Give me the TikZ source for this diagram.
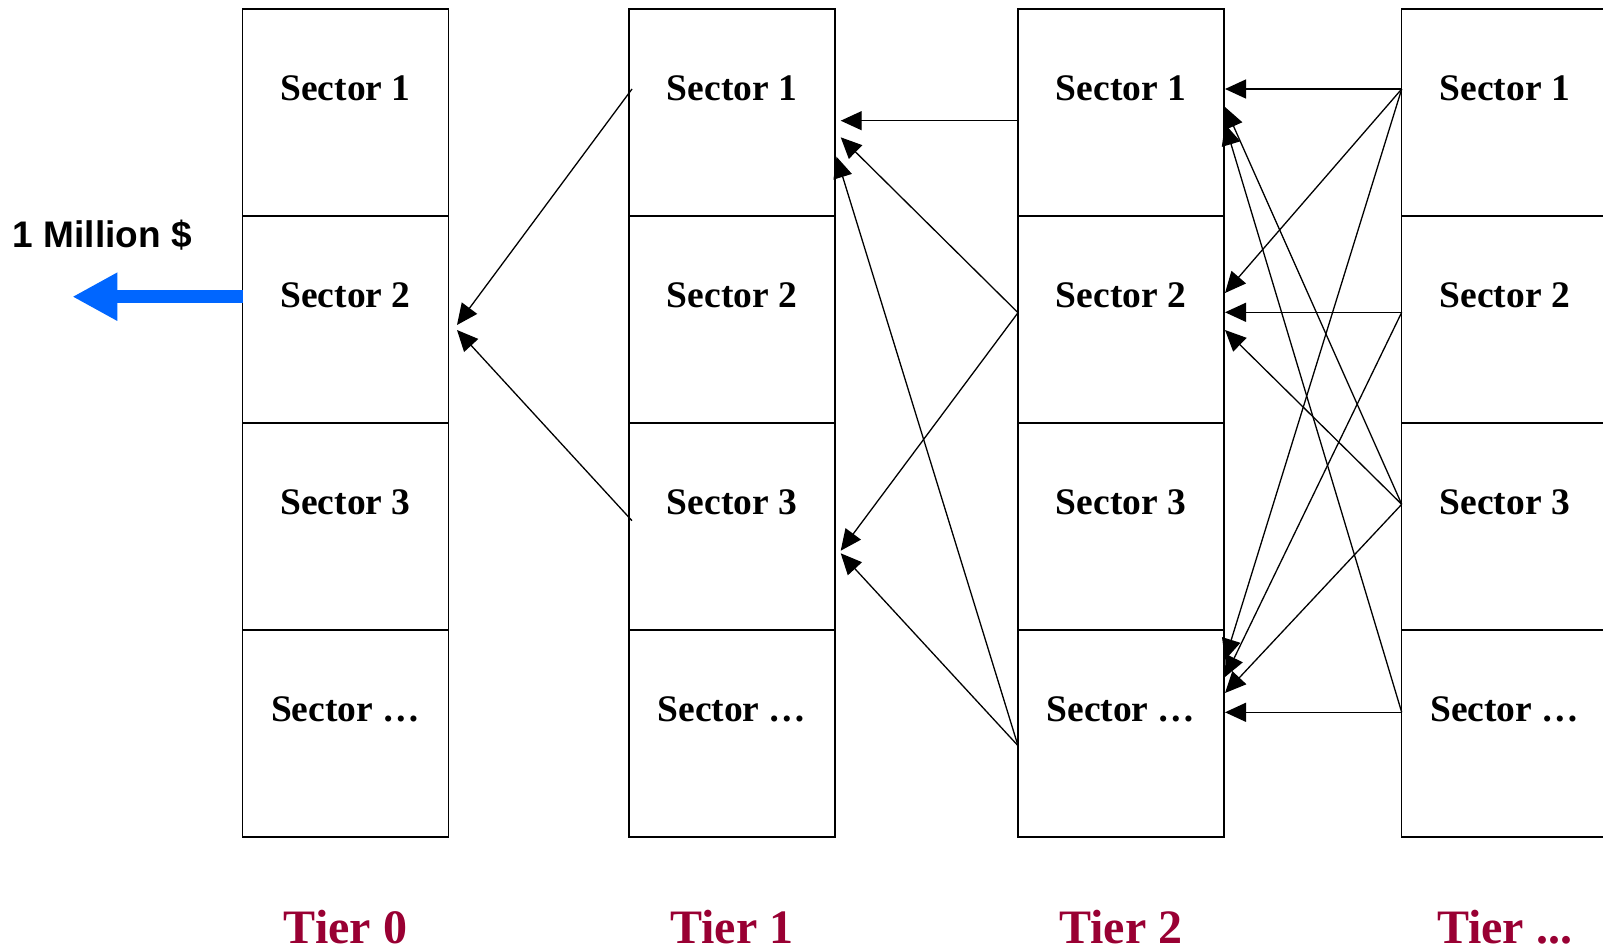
\documentclass[tikz,border=0pt]{standalone}
\usepackage{fontspec}
\setmainfont{Liberation Serif}
\newfontfamily\arialfont{Liberation Sans}
\usetikzlibrary{arrows.meta,calc}
\definecolor{tierred}{RGB}{153,0,51}
\definecolor{moneyblue}{RGB}{0,102,255}
\begin{document}
\begin{tikzpicture}[x=1pt,y=-1pt,
  cell/.style={draw=black,line width=1.5pt,minimum width=206pt,minimum height=207pt,inner sep=0pt,outer sep=0pt},
  sectortext/.style={anchor=base,inner sep=0pt,font=\fontsize{37.5}{44}\selectfont\bfseries},
  tiertext/.style={anchor=base,inner sep=0pt,text=tierred,font=\fontsize{48}{56}\selectfont\bfseries},
  conn/.style={draw=black,line width=1.3pt,-{Triangle[length=21pt,width=19pt]}},
  moneyarrow/.style={draw=moneyblue,line width=12.7pt,-{Triangle[length=45pt,width=45pt]}}]
\useasboundingbox (0,0) rectangle (1603,950);
\clip (0,0) rectangle (1603,950);
\foreach \c/\x in {0/345.5,1/732,2/1121,3/1504.7}{
  \foreach \r/\y/\t in {1/112.7/Sector 1,2/319.7/Sector 2,3/526.7/Sector 3,4/733.7/Sector …}{
    \node[cell] (c\c-\r) at (\x,\y) {};
    \node[sectortext] (t\c-\r) at ($(c\c-\r.north)+(0,91)$) {\t};
  }
}
\node[tiertext] (tier0) at (345.5,943) {Tier 0};
\node[tiertext] (tier1) at (732,943) {Tier 1};
\node[tiertext] (tier2) at (1121,943) {Tier 2};
\node[tiertext] (tier3) at (1504.7,943) {Tier ...};
% money
\node[anchor=base west,inner sep=0pt,font=\arialfont\fontsize{37}{44}\selectfont\bfseries] (money) at (12.7,247.3) {1 Million \$};
\coordinate (moneytip) at (72.3,296.7);
\draw[moneyarrow] ($(c0-2.west)+(0,-23)$) -- (moneytip);
% Tier 1 -> Tier 0
\draw[conn] ($(c1-1.west)+(3,-23.7)$) -- ($(c0-2.east)+(8.5,5.3)$);
\draw[conn] ($(c1-3.west)+(3,-6)$) -- ($(c0-2.east)+(8.5,10.3)$);
% Tier 2 -> Tier 1
\draw[conn] ($(c2-1.west)+(0,8)$) -- ($(c1-1.east)+(5.7,8)$);
\draw[conn] ($(c2-2.west)+(0,-7)$) -- ($(c1-1.east)+(5.7,24.6)$);
\draw[conn] ($(c2-2.west)+(0,-7)$) -- ($(c1-3.east)+(5.7,24)$);
\draw[conn] ($(c2-4.west)+(0,12)$) -- ($(c1-1.east)+(1.5,44)$);
\draw[conn] ($(c2-4.west)+(0,12)$) -- ($(c1-3.east)+(5.7,26.6)$);
% Tier ... -> Tier 2
\draw[conn] ($(c3-1.west)+(0,-23.7)$) -- ($(c2-1.east)+(1,-23.7)$);
\draw[conn] ($(c3-1.west)+(0,-23.7)$) -- ($(c2-2.east)+(1,-26.7)$);
\draw[conn] ($(c3-1.west)+(0,-23.7)$) -- ($(c2-4.east)+(1,-73.7)$);
\draw[conn] ($(c3-2.west)+(0,-7.4)$) -- ($(c2-2.east)+(1,-7.4)$);
\draw[conn] ($(c3-2.west)+(0,-7.4)$) -- ($(c2-4.east)+(1,-56.7)$);
\draw[conn] ($(c3-3.west)+(0,-22.4)$) -- ($(c2-2.east)+(1,10.3)$);
\draw[conn] ($(c3-3.west)+(0,-22.4)$) -- ($(c2-1.east)+(1,-5.7)$);
\draw[conn] ($(c3-3.west)+(0,-22.4)$) -- ($(c2-4.east)+(1,-40.7)$);
\draw[conn] ($(c3-4.west)+(0,-21.4)$) -- ($(c2-4.east)+(1,-21.4)$);
\draw[conn] ($(c3-4.west)+(0,-21.4)$) -- ($(c2-1.east)+(1,11.3)$);
\end{tikzpicture}
\end{document}
